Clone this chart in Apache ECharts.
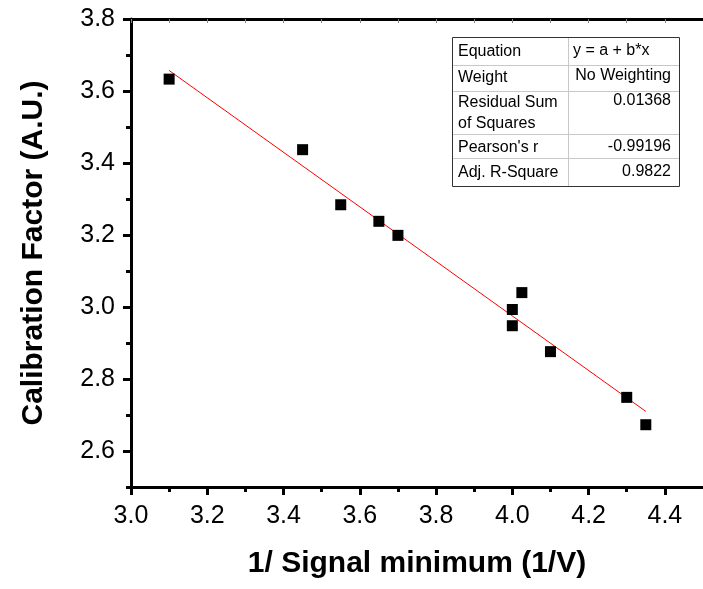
<!DOCTYPE html>
<html>
<head>
<meta charset="utf-8">
<script src="https://cdn.jsdelivr.net/npm/echarts@6/dist/echarts.min.js"></script>
<style>html,body{margin:0;padding:0;background:#fff;}#c{width:703px;height:589px;}</style>
</head>
<body>
<div id="c"></div>
<script>
// Data
var xValues = [3.10, 3.45, 3.55, 3.65, 3.70, 4.00, 4.00, 4.025, 4.10, 4.30, 4.35];
var yValues = [3.633, 3.437, 3.284, 3.238, 3.199, 2.993, 2.948, 3.040, 2.876, 2.749, 2.673];
var fitX = [3.10, 4.35];
var fitY = [3.657, 2.710];
var xTicks = [3.0, 3.2, 3.4, 3.6, 3.8, 4.0, 4.2, 4.4];
var xMinorTicks = [3.1, 3.3, 3.5, 3.7, 3.9, 4.1, 4.3];
var yTicks = [2.6, 2.8, 3.0, 3.2, 3.4, 3.6, 3.8];
var yMinorTicks = [2.5, 2.7, 2.9, 3.1, 3.3, 3.5, 3.7];
var tableRows = [
  ["Equation", "y = a + b*x"],
  ["Weight", "No Weighting"],
  ["Residual Sum\nof Squares", "0.01368"],
  ["Pearson's r", "-0.99196"],
  ["Adj. R-Square", "0.9822"]
];

(function () {
var FONT = 'Arial, "Liberation Sans", sans-serif';
var chart = echarts.init(document.getElementById('c'), null, {renderer: 'canvas'});

var X0 = 3.0, X1 = 4.5, Y0 = 2.5, Y1 = 3.8;
var gridLeft = 131, gridTop = 19, pxX = 385.7, pxY = 360;

function pairs(a, b) { return a.map(function (v, i) { return [v, b[i]]; }); }

// Table graphic
var tL = 452, tT = 37, tR = 679, tB = 186, tMid = 568;
var rowEdges = [37, 65, 91, 134, 158, 186];
var leftY = [51.5, 78, 102, 148, 173];
var rightY = [50.5, 76, 101, 146.5, 171.5];
var g = [];
g.push({type: 'rect', shape: {x: tL + 0.5, y: tT + 0.5, width: tR - tL, height: tB - tT},
  style: {fill: '#fff', stroke: '#333', lineWidth: 1}, z: 100});
for (var i = 1; i < rowEdges.length - 1; i++) {
  g.push({type: 'line', shape: {x1: tL + 1, y1: rowEdges[i] + 0.5, x2: tR, y2: rowEdges[i] + 0.5},
    style: {stroke: '#c8c8c8', lineWidth: 1}, z: 101});
}
g.push({type: 'line', shape: {x1: tMid + 0.5, y1: tT + 1, x2: tMid + 0.5, y2: tB},
  style: {stroke: '#c8c8c8', lineWidth: 1}, z: 101});
for (var r = 0; r < tableRows.length; r++) {
  var isTwo = tableRows[r][0].indexOf('\n') >= 0;
  g.push({type: 'text', x: tL + 6, y: isTwo ? leftY[r] - 10 : leftY[r], z: 102,
    style: {text: tableRows[r][0], font: '16px ' + FONT, fill: '#000', lineHeight: 21,
      verticalAlign: isTwo ? 'top' : 'middle', y: 0}});
  if (r === 0) {
    g.push({type: 'text', x: tMid + 5, y: rightY[r], z: 102,
      style: {text: tableRows[r][1], font: '16px ' + FONT, fill: '#000', verticalAlign: 'middle'}});
  } else {
    g.push({type: 'text', x: tR - 8, y: rightY[r], z: 102,
      style: {text: tableRows[r][1], font: '16px ' + FONT, fill: '#000', align: 'right', verticalAlign: 'middle'}});
  }
}

var option = {
  backgroundColor: '#fff',
  animation: false,
  grid: {left: gridLeft, top: gridTop, width: (X1 - X0) * pxX, height: (Y1 - Y0) * pxY, containLabel: false},
  xAxis: [
    {
      type: 'value', min: X0, max: X1, position: 'bottom',
      name: '1/ Signal minimum (1/V)', nameLocation: 'middle', nameGap: 62,
      nameTextStyle: {fontSize: 30, fontWeight: 'bold', color: '#000', fontFamily: FONT},
      axisLine: {show: true, lineStyle: {color: '#000', width: 3}},
      axisTick: {show: true, inside: false, length: 8, lineStyle: {color: '#000', width: 3}, customValues: xTicks},
      axisLabel: {show: true, margin: 17, fontSize: 25, color: '#000', fontFamily: FONT, customValues: xTicks,
        formatter: function (v) { return v.toFixed(1); }},
      splitLine: {show: false}
    },
    {
      type: 'value', min: X0, max: X1, position: 'bottom',
      axisLine: {show: false},
      axisTick: {show: true, inside: false, length: 5, lineStyle: {color: '#000', width: 3}, customValues: xMinorTicks},
      axisLabel: {show: false}, splitLine: {show: false}
    },
    {
      type: 'value', min: X0, max: X1, position: 'top',
      axisLine: {show: true, lineStyle: {color: '#000', width: 3}},
      axisTick: {show: true, inside: true, length: 4, lineStyle: {color: '#888', width: 1},
        customValues: xTicks.concat(xMinorTicks)},
      axisLabel: {show: false}, splitLine: {show: false}
    }
  ],
  yAxis: [
    {
      type: 'value', min: Y0, max: Y1, position: 'left',
      name: 'Calibration Factor (A.U.)', nameLocation: 'middle', nameGap: 82,
      nameTextStyle: {fontSize: 30, fontWeight: 'bold', color: '#000', fontFamily: FONT},
      axisLine: {show: true, lineStyle: {color: '#000', width: 3}},
      axisTick: {show: true, inside: false, length: 8, lineStyle: {color: '#000', width: 3}, customValues: yTicks},
      axisLabel: {show: true, margin: 16, fontSize: 25, color: '#000', fontFamily: FONT, customValues: yTicks,
        formatter: function (v) { return v.toFixed(1); }},
      splitLine: {show: false}
    },
    {
      type: 'value', min: Y0, max: Y1, position: 'left',
      axisLine: {show: false},
      axisTick: {show: true, inside: false, length: 5, lineStyle: {color: '#000', width: 3}, customValues: yMinorTicks},
      axisLabel: {show: false}, splitLine: {show: false}
    }
  ],
  series: [
    {
      type: 'line', xAxisIndex: 0, yAxisIndex: 0, data: pairs(fitX, fitY),
      symbol: 'none', lineStyle: {color: '#ff0000', width: 1}, z: 2, silent: true
    },
    {
      type: 'scatter', xAxisIndex: 0, yAxisIndex: 0, data: pairs(xValues, yValues),
      symbol: 'rect', symbolSize: 11, itemStyle: {color: '#000', opacity: 1}, z: 3
    }
  ],
  graphic: g
};
chart.setOption(option);
})();
</script>
</body>
</html>
